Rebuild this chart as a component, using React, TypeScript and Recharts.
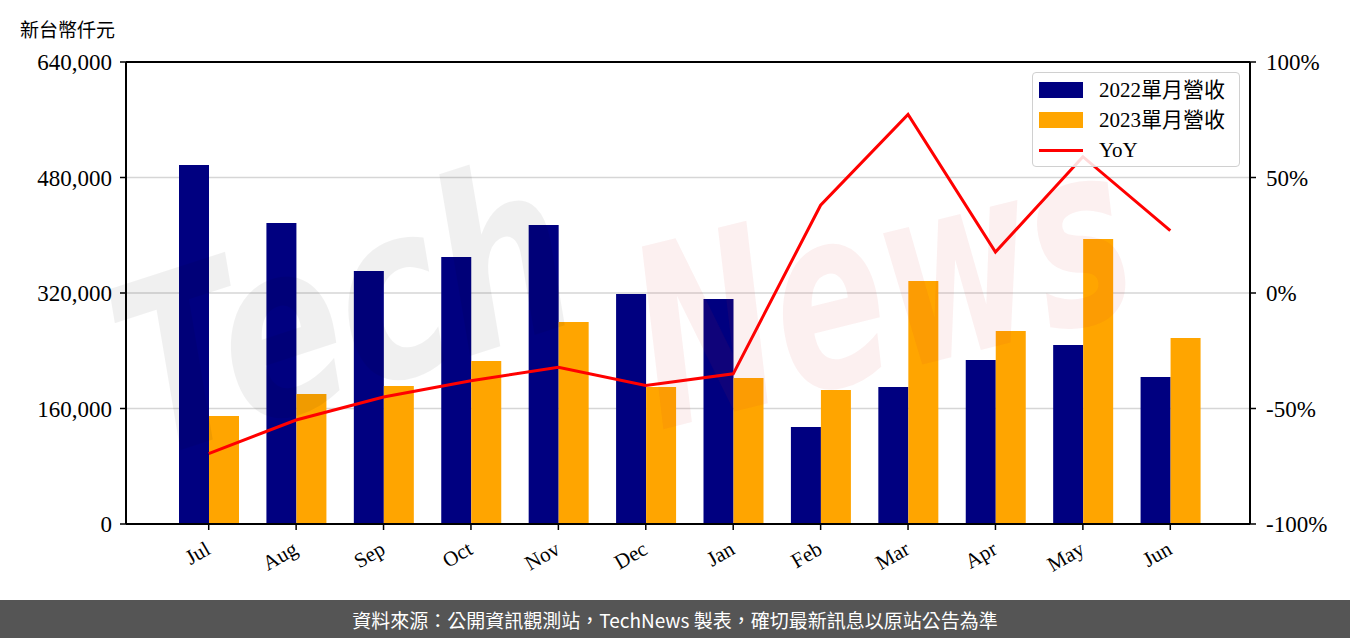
import React from "react";
import {
  ComposedChart,
  Bar,
  Line,
  XAxis,
  YAxis,
  CartesianGrid,
  ReferenceLine,
} from "recharts";

const months = ["Jul", "Aug", "Sep", "Oct", "Nov", "Dec", "Jan", "Feb", "Mar", "Apr", "May", "Jun"];
const rev2022 = [497300, 417000, 350500, 369900, 414200, 318600, 311700, 134400, 189800, 227200, 248000, 203600];
const rev2023 = [149600, 180100, 191200, 225800, 279800, 189800, 202300, 185600, 336600, 267400, 394800, 257700];
const yoy = [-69.5, -55, -45, -38, -32.2, -40, -35, 38, 77.3, 17.7, 59, 27];
const leftTicks = [0, 160000, 320000, 480000, 640000];
const rightTicks = [-100, -50, 0, 50, 100];

const data = months.map((m, i) => ({
  month: m,
  r2022: rev2022[i],
  r2023: rev2023[i],
  yoy: yoy[i],
}));

const serif = "'Liberation Serif', 'Noto Sans CJK TC', serif";
const cjk = "'Noto Sans CJK TC', sans-serif";

const XTick = (props: any) => {
  const { x, y, payload } = props;
  const ax = x + 3;
  const ay = y + 21;
  return (
    <text
      x={ax}
      y={ay}
      transform={`rotate(-30, ${ax}, ${ay})`}
      textAnchor="end"
      fontFamily={serif}
      fontSize={21}
      fill="#000"
    >
      {payload.value}
    </text>
  );
};

const legendItems = [
  { label: "2022單月營收", color: "#000080", type: "rect" },
  { label: "2023單月營收", color: "#FFA500", type: "rect" },
  { label: "YoY", color: "#FF0000", type: "line" },
];

const LegendBox = () => (
  <div
    style={{
      position: "absolute",
      left: 1032,
      top: 72,
      width: 208,
      height: 95,
      border: "1px solid #d0d0d0",
      borderRadius: 4,
      background: "rgba(255,255,255,0.85)",
      boxSizing: "border-box",
      padding: "2px 0 0 6px",
    }}
  >
    {legendItems.map((it) => (
      <div key={it.label} style={{ display: "flex", alignItems: "center", height: 30 }}>
        <div style={{ width: 44, height: 16, display: "flex", alignItems: "center" }}>
          {it.type === "rect" ? (
            <div style={{ width: 44, height: 16, background: it.color }} />
          ) : (
            <div style={{ width: 44, height: 3, background: it.color }} />
          )}
        </div>
        <span
          style={{
            marginLeft: 16,
            fontFamily: serif,
            fontSize: 21,
            color: "#000",
            lineHeight: "21px",
          }}
        >
          {it.label}
        </span>
      </div>
    ))}
  </div>
);

export default function App() {
  return (
    <div
      style={{
        position: "absolute",
        left: 0,
        top: 0,
        width: 1350,
        height: 638,
        background: "#fff",
        overflow: "hidden",
      }}
    >
      <div
        style={{
          position: "absolute",
          left: 20,
          top: 15,
          fontFamily: cjk,
          fontSize: 19,
          color: "#000",
        }}
      >
        新台幣仟元
      </div>
      <div style={{ position: "absolute", left: 0, top: 0 }}>
        <ComposedChart
          width={1350}
          height={600}
          data={data}
          margin={{ top: 62, right: 0, bottom: 0, left: 0 }}
          barGap={0}
          barCategoryGap={0}
        >
          <CartesianGrid vertical={false} stroke="#d6d6d6" strokeWidth={1.5} yAxisId="left" />
          <XAxis
            dataKey="month"
            height={76}
            padding={{ left: 39, right: 36 }}
            tick={<XTick />}
            tickSize={6}
            tickLine={{ stroke: "#000", strokeWidth: 1.5 }}
            axisLine={{ stroke: "#000", strokeWidth: 2 }}
            interval={0}
          />
          <YAxis
            yAxisId="left"
            orientation="left"
            width={126}
            domain={[0, 640000]}
            ticks={leftTicks}
            tickFormatter={(v: number) => v.toLocaleString("en-US")}
            tick={{ fill: "#000", fontFamily: serif, fontSize: 23 }}
            tickSize={6}
            tickMargin={8}
            tickLine={{ stroke: "#000", strokeWidth: 1.5 }}
            axisLine={{ stroke: "#000", strokeWidth: 2 }}
            allowDataOverflow
          />
          <YAxis
            yAxisId="right"
            orientation="right"
            width={100}
            domain={[-100, 100]}
            ticks={rightTicks}
            tickFormatter={(v: number) => `${v}%`}
            tick={{ fill: "#000", fontFamily: serif, fontSize: 23, textAnchor: "start" }}
            tickSize={6}
            tickMargin={10}
            tickLine={{ stroke: "#000", strokeWidth: 1.5 }}
            axisLine={{ stroke: "#000", strokeWidth: 2 }}
            allowDataOverflow
          />
          <ReferenceLine yAxisId="left" y={640000} stroke="#000" strokeWidth={2} />
          <Bar
            yAxisId="left"
            dataKey="r2022"
            fill="#000080"
            barSize={30}
            isAnimationActive={false}
          />
          <Bar
            yAxisId="left"
            dataKey="r2023"
            fill="#FFA500"
            barSize={30}
            isAnimationActive={false}
          />
          <Line
            yAxisId="right"
            dataKey="yoy"
            type="linear"
            stroke="#FF0000"
            strokeWidth={3}
            dot={false}
            activeDot={false}
            isAnimationActive={false}
          />
        </ComposedChart>
      </div>
      <svg
        width={1350}
        height={600}
        style={{ position: "absolute", left: 0, top: 0, pointerEvents: "none" }}
      >
        <text
          x={150}
          y={460}
          transform="rotate(-18, 150, 460)"
          fontFamily="'DejaVu Sans', sans-serif"
          fontWeight="bold"
          fontStyle="italic"
          fontSize={240}
          textLength={460}
          lengthAdjust="spacingAndGlyphs"
          fill="rgba(0,0,0,0.06)"
        >
          Tech
        </text>
        <text
          x={660}
          y={430}
          transform="rotate(-14, 660, 430)"
          fontFamily="'DejaVu Sans', sans-serif"
          fontWeight="bold"
          fontStyle="italic"
          fontSize={250}
          textLength={500}
          lengthAdjust="spacingAndGlyphs"
          fill="rgba(210,40,40,0.07)"
        >
          News
        </text>
      </svg>
      <LegendBox />
      <div
        style={{
          position: "absolute",
          left: 0,
          top: 600,
          width: 1350,
          height: 38,
          background: "#555555",
          color: "#fff",
          fontFamily: cjk,
          fontSize: 19,
          display: "flex",
          alignItems: "center",
          justifyContent: "center",
        }}
      >
        資料來源：公開資訊觀測站，TechNews 製表，確切最新訊息以原站公告為準
      </div>
    </div>
  );
}
